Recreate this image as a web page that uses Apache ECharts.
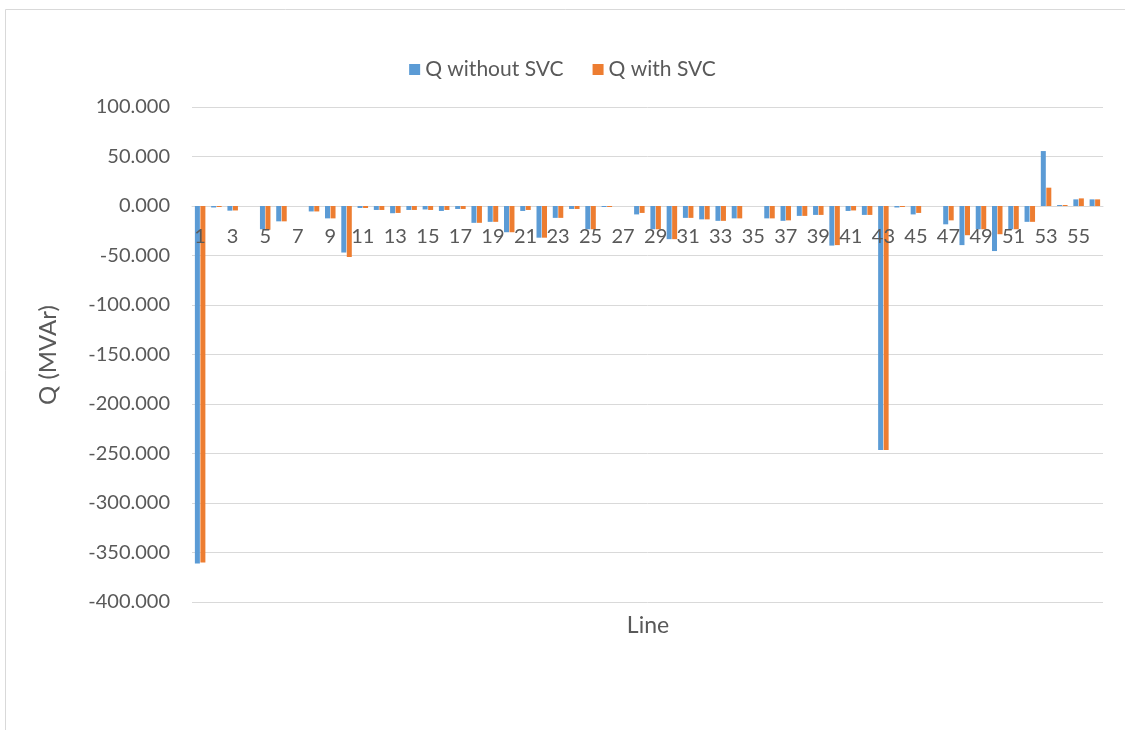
<!DOCTYPE html>
<html>
<head>
<meta charset="utf-8">
<title>Q with and without SVC</title>
<script src="https://cdn.jsdelivr.net/npm/echarts@6/dist/echarts.min.js"></script>
<style>
  html, body { margin: 0; padding: 0; background: #ffffff; }
  #chart { width: 1125px; height: 730px; }
</style>
</head>
<body>
<div id="chart"></div>
<script>
// Line numbers 1..56
const lines = [
  '1','2','3','4','5','6','7','8','9','10',
  '11','12','13','14','15','16','17','18','19','20',
  '21','22','23','24','25','26','27','28','29','30',
  '31','32','33','34','35','36','37','38','39','40',
  '41','42','43','44','45','46','47','48','49','50',
  '51','52','53','54','55','56'
];

// Reactive power flow per line (MVAr)
const qWithoutSVC = [
  -361, -1.5, -4.7, 0, -23.5, -15.5, 0, -5.5, -12.5, -47,
  -2, -4, -7.3, -4, -3.5, -5, -3, -17, -16, -26.5,
  -5, -32, -12, -3, -23.5, -1, 0, -8.5, -23.5, -33.5,
  -12, -13.5, -15, -12.5, 0, -12.5, -15, -10, -9, -40,
  -5, -9, -246.5, -1.5, -8.5, 0, -18.5, -39.5, -23.5, -45.5,
  -23.5, -16, 55.5, 1, 6.7, 6.7
];

const qWithSVC = [
  -360, -1, -4.5, 0, -24, -15.5, 0, -5.5, -12.5, -51.5,
  -2, -4, -7, -4, -4, -4, -3, -17, -16, -26.5,
  -4, -32, -12, -3, -23.5, -1, 0, -7, -23.5, -33.5,
  -12, -13.5, -15, -12.5, 0, -12.5, -14.5, -10, -9, -39.5,
  -4.5, -9, -246.5, -1, -7, 0, -14.5, -29.5, -23.5, -28.5,
  -23.5, -16, 18.5, 1, 7.7, 6.7
];

const seriesNames = ['Q without SVC', 'Q with SVC'];
const yTitle = 'Q (MVAr)';
const xTitle = 'Line';

const Y_MIN = -400;
const Y_MAX = 100;

const FONT = 'Lato, "Liberation Sans", sans-serif';
const TEXT = '#595959';
const GRID = '#d9d9d9';

const GRID_TOP = 107;
const GRID_BOTTOM = 128;
const CHART_H = 730;

// distance from the plot bottom up to the zero line, so the category
// labels sit right under the zero baseline
const plotH = CHART_H - GRID_TOP - GRID_BOTTOM;
const zeroLift = plotH * (0 - Y_MIN) / (Y_MAX - Y_MIN);

const chart = echarts.init(document.getElementById('chart'));

chart.setOption({
  animation: false,
  backgroundColor: '#ffffff',
  textStyle: { fontFamily: FONT },
  legend: {
    top: 54,
    left: 'center',
    icon: 'rect',
    itemWidth: 11,
    itemHeight: 11,
    itemGap: 29,
    textStyle: { fontSize: 21, color: TEXT, fontFamily: FONT },
    data: seriesNames
  },
  grid: { left: 192, right: 22, top: GRID_TOP, bottom: GRID_BOTTOM, containLabel: false },
  xAxis: [
    {
      type: 'category',
      data: lines,
      axisLine: { onZero: true, lineStyle: { color: GRID, width: 1 } },
      axisTick: { show: false },
      axisLabel: { show: false },
      splitLine: { show: false }
    },
    {
      // label row drawn above the bars, just under the zero line
      type: 'category',
      data: lines,
      position: 'bottom',
      offset: -zeroLift,
      z: 10,
      axisLine: { show: false, onZero: false },
      axisTick: { show: false },
      axisLabel: { interval: 1, margin: 21, fontSize: 20, color: TEXT, fontFamily: FONT },
      splitLine: { show: false }
    }
  ],
  yAxis: {
    type: 'value',
    min: Y_MIN,
    max: Y_MAX,
    interval: 50,
    axisLine: { show: false },
    axisTick: { show: false },
    axisLabel: {
      margin: 22,
      fontSize: 20,
      color: TEXT,
      fontFamily: FONT,
      formatter: v => v.toFixed(3)
    },
    splitLine: { lineStyle: { color: GRID, width: 1 } }
  },
  series: [
    {
      name: seriesNames[0],
      type: 'bar',
      xAxisIndex: 0,
      data: qWithoutSVC,
      barWidth: 5,
      barGap: '10%',
      itemStyle: { color: '#5B9BD5' }
    },
    {
      name: seriesNames[1],
      type: 'bar',
      xAxisIndex: 0,
      data: qWithSVC,
      barWidth: 5,
      barGap: '10%',
      itemStyle: { color: '#ED7D31' }
    }
  ],
  graphic: [
    {
      type: 'rect',
      silent: true,
      shape: { x: 5.5, y: 9.5, width: 1300, height: 900 },
      style: { fill: 'none', stroke: GRID, lineWidth: 1 },
      z: -10
    },
    {
      type: 'text',
      silent: true,
      x: 48,
      y: 355,
      rotation: Math.PI / 2,
      style: {
        text: yTitle,
        x: 0,
        y: 0,
        align: 'center',
        verticalAlign: 'middle',
        fontSize: 24,
        fill: TEXT,
        fontFamily: FONT
      }
    },
    {
      type: 'text',
      silent: true,
      x: 648,
      y: 626,
      style: {
        text: xTitle,
        x: 0,
        y: 0,
        align: 'center',
        verticalAlign: 'middle',
        fontSize: 23,
        fill: TEXT,
        fontFamily: FONT
      }
    }
  ]
});
</script>
</body>
</html>
